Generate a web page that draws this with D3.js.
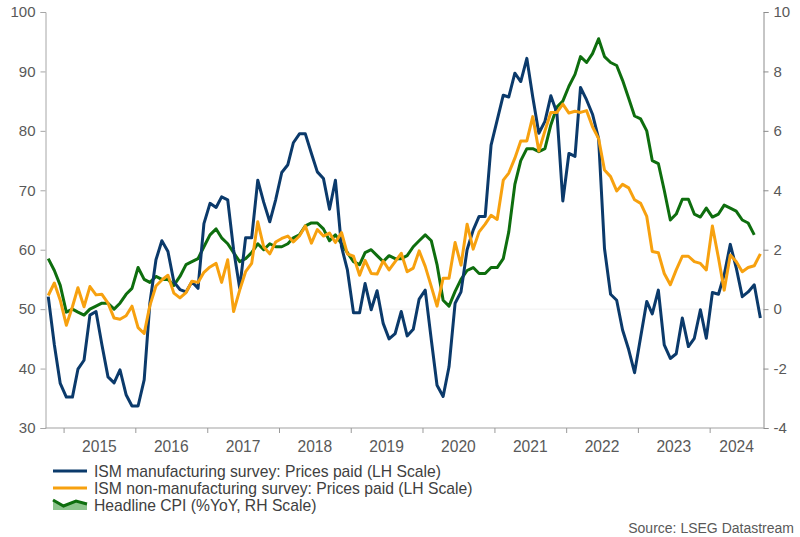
<!DOCTYPE html>
<html>
<head>
<meta charset="utf-8">
<script src="https://cdn.jsdelivr.net/npm/d3@7"></script>
<style>
  html, body { margin: 0; padding: 0; background: #fff; }
  svg { display: block; font-family: "Liberation Sans", Arial, sans-serif; }
</style>
</head>
<body>
<svg id="chart" width="800" height="537"></svg>
<script>
// ---- Data (monthly, Oct 2014 onward) ----
const startYear = 2014, startMonth = 9; // Oct 2014 (0-based month)

const ismManufacturing = [
  52.1, 44.0, 37.5,
  35.2, 35.2, 39.9, 41.4, 49.0, 49.6, 44.0, 38.6, 37.6, 39.8, 35.6, 33.7,
  33.7, 38.1, 51.0, 58.3, 61.5, 59.7, 54.6, 53.3, 52.9, 54.6, 53.5, 64.4,
  67.8, 67.1, 68.9, 68.4, 60.0, 53.5, 62.0, 62.0, 71.7, 68.0, 64.7, 68.4,
  73.0, 74.3, 78.0, 79.5, 79.5, 76.2, 73.1, 72.0, 66.8, 71.7, 60.5, 56.6,
  49.4, 49.4, 54.3, 49.9, 53.1, 47.6, 45.0, 45.9, 49.6, 45.5, 46.6, 51.7,
  53.2, 44.8, 37.2, 35.3, 40.3, 51.0, 52.9, 60.0, 63.3, 65.6, 65.6, 77.6,
  81.8, 86.0, 85.7, 89.7, 88.3, 92.2, 85.7, 79.6, 81.6, 85.9, 83.0, 68.2,
  76.2, 75.7, 87.3, 85.2, 82.8, 78.7, 60.2, 52.5, 51.5, 46.5, 43.2, 39.3,
  45.3, 51.3, 49.2, 53.2, 44.0, 41.7, 42.5, 48.5, 43.7, 45.1, 49.9, 45.1,
  52.8, 52.5, 55.8, 60.9, 57.0, 52.1, 52.9, 54.1, 48.5
];

const ismServices = [
  52.3, 54.4, 51.5,
  47.3, 50.4, 53.6, 50.4, 53.8, 52.4, 52.5, 51.0, 48.5, 48.3, 48.9, 50.5,
  46.9, 45.9, 50.6, 53.9, 54.9, 55.7, 52.7, 51.9, 52.8, 54.7, 54.5, 56.2,
  57.1, 57.7, 54.5, 58.3, 49.6, 53.2, 56.3, 57.7, 64.7, 60.5, 59.3, 61.3,
  61.9, 62.3, 61.3, 62.3, 64.0, 61.1, 63.4, 62.3, 62.8, 61.2, 62.9, 59.3,
  58.9, 55.7, 58.2, 56.0, 55.9, 58.1, 56.6, 58.0, 59.4, 56.3, 56.9, 59.8,
  57.2, 53.8, 50.5, 55.2, 55.2, 61.2, 57.4, 64.3, 60.1, 63.0, 64.3, 65.8,
  65.1, 71.7, 72.9, 75.4, 78.3, 78.3, 82.4, 76.6, 80.0, 83.1, 83.1, 84.5,
  83.0, 83.3, 83.1, 83.4, 80.7, 78.7, 73.4, 72.3, 69.9, 71.0, 70.4, 68.4,
  67.8, 65.6, 59.7, 59.5, 56.0, 54.1, 56.6, 58.9, 58.9, 58.0, 57.7, 56.6,
  64.0, 58.6, 53.2, 59.1, 58.0, 56.3, 57.0, 57.3, 59.3
];

const headlineCPI = [
  1.7, 1.3, 0.8,
  -0.1, 0.0, -0.1, -0.2, 0.0, 0.1, 0.2, 0.2, 0.0, 0.2, 0.5, 0.7,
  1.4, 1.0, 0.9, 1.1, 1.0, 1.0, 0.8, 1.1, 1.5, 1.6, 1.7, 2.1,
  2.5, 2.7, 2.4, 2.2, 1.9, 1.6, 1.7, 1.9, 2.2, 2.0, 2.2, 2.1,
  2.1, 2.2, 2.4, 2.5, 2.8, 2.9, 2.9, 2.7, 2.3, 2.5, 2.2, 1.9,
  1.6, 1.5, 1.9, 2.0, 1.8, 1.6, 1.8, 1.7, 1.7, 1.8, 2.1, 2.3,
  2.5, 2.3, 1.5, 0.3, 0.1, 0.6, 1.0, 1.3, 1.4, 1.2, 1.2, 1.4,
  1.4, 1.7, 2.6, 4.2, 5.0, 5.4, 5.4, 5.3, 5.4, 6.2, 6.8, 7.0,
  7.5, 7.9, 8.5, 8.3, 8.6, 9.1, 8.5, 8.3, 8.2, 7.7, 7.1, 6.5,
  6.4, 6.0, 5.0, 4.9, 4.0, 3.0, 3.2, 3.7, 3.7, 3.2, 3.1, 3.4,
  3.1, 3.2, 3.5, 3.4, 3.3, 3.0, 2.9, 2.5
];

const yearLabels = ["2015","2016","2017","2018","2019","2020","2021","2022","2023","2024"];
const leftTicks = [30, 40, 50, 60, 70, 80, 90, 100];
const rightTicks = [-4, -2, 0, 2, 4, 6, 8, 10];

const seriesNames = [
  "ISM manufacturing survey: Prices paid (LH Scale)",
  "ISM non-manufacturing survey: Prices paid (LH Scale)",
  "Headline CPI (%YoY, RH Scale)"
];
const sourceText = "Source: LSEG Datastream";

// ---- Setup ----
const colors = { blue: "#0b3a6b", orange: "#f7a10f", green: "#0e6e0e" };
const svg = d3.select("#chart");
const dateOf = i => new Date(startYear, startMonth + i, 15);

const x = d3.scaleTime()
  .domain([new Date(2014, 9, 1), new Date(2024, 9, 1)])
  .range([45.5, 763.5]);
const yL = d3.scaleLinear().domain([30, 100]).range([428, 12]);
const yR = d3.scaleLinear().domain([-4, 10]).range([428, 12]);

// faint zero line
svg.append("line")
  .attr("x1", x.range()[0]).attr("x2", x.range()[1])
  .attr("y1", yR(0)).attr("y2", yR(0))
  .attr("stroke", "#f2f2f2").attr("stroke-width", 1);

// ---- Axes ----
const textColor = "#595959";

// bottom axis
const gx = svg.append("g").attr("transform", `translate(0,428)`);
gx.append("line")
  .attr("x1", x.range()[0]).attr("x2", x.range()[1])
  .attr("y1", 0).attr("y2", 0)
  .attr("stroke", "#d0d0d0").attr("stroke-width", 2);
const yearTicks = yearLabels.map(y => new Date(+y, 0, 1));
const xAxis = d3.axisBottom(x).tickValues(yearTicks).tickSize(5).tickFormat("");
const gxa = svg.append("g").attr("transform", "translate(0,428)").call(xAxis);
gxa.select(".domain").remove();
gxa.selectAll(".tick line").attr("stroke", "#9a9a9a");
// year labels centered between ticks
yearLabels.forEach((lab, i) => {
  const a = x(yearTicks[i]);
  const b = i < yearLabels.length - 1 ? x(yearTicks[i + 1]) : x.range()[1];
  svg.append("text")
    .attr("x", (a + b) / 2).attr("y", 446)
    .attr("text-anchor", "middle").attr("dominant-baseline", "central")
    .attr("font-size", 15.6).attr("fill", textColor)
    .text(lab);
});

const fmt = v => String(v); // plain hyphen-minus like the reference

// left axis
const gl = svg.append("g").attr("transform", `translate(${x.range()[0]},0)`)
  .call(d3.axisLeft(yL).tickValues(leftTicks).tickSize(5).tickPadding(5).tickFormat(fmt));
gl.select(".domain").attr("stroke", "#a6a6a6");
gl.selectAll(".tick line").attr("stroke", "#a6a6a6");
gl.selectAll(".tick text").attr("font-size", 15).attr("fill", textColor)
  .attr("font-family", "Liberation Sans, Arial, sans-serif");

// right axis
const gr = svg.append("g").attr("transform", `translate(${x.range()[1]},0)`)
  .call(d3.axisRight(yR).tickValues(rightTicks).tickSize(5).tickPadding(5).tickFormat(fmt));
gr.select(".domain").attr("stroke", "#8c8c8c");
gr.selectAll(".tick line").attr("stroke", "#8c8c8c");
gr.selectAll(".tick text").attr("font-size", 15).attr("fill", textColor)
  .attr("font-family", "Liberation Sans, Arial, sans-serif");

// ---- Lines ----
const lineL = d3.line().x((d, i) => x(dateOf(i))).y(d => yL(d));
const lineR = d3.line().x((d, i) => x(dateOf(i))).y(d => yR(d));

svg.append("path").datum(headlineCPI)
  .attr("d", lineR).attr("fill", "none")
  .attr("stroke", colors.green).attr("stroke-width", 3).attr("stroke-linejoin", "round");
svg.append("path").datum(ismManufacturing)
  .attr("d", lineL).attr("fill", "none")
  .attr("stroke", colors.blue).attr("stroke-width", 3).attr("stroke-linejoin", "round");
svg.append("path").datum(ismServices)
  .attr("d", lineL).attr("fill", "none")
  .attr("stroke", colors.orange).attr("stroke-width", 3).attr("stroke-linejoin", "round");

// ---- Legend ----
const legendY = [471, 488, 505];
const lg = svg.append("g");
lg.append("line").attr("x1", 53).attr("x2", 87).attr("y1", legendY[0]).attr("y2", legendY[0])
  .attr("stroke", colors.blue).attr("stroke-width", 3);
lg.append("line").attr("x1", 53).attr("x2", 87).attr("y1", legendY[1]).attr("y2", legendY[1])
  .attr("stroke", colors.orange).attr("stroke-width", 3);
const iconPts = [[53, 500], [63.5, 506], [76, 501], [87, 504]];
lg.append("path")
  .attr("d", d3.area().x(d => d[0]).y0(510).y1(d => d[1])(iconPts))
  .attr("fill", "#8cc48c");
lg.append("path")
  .attr("d", d3.line()(iconPts))
  .attr("fill", "none").attr("stroke", colors.green).attr("stroke-width", 3);
seriesNames.forEach((n, i) => {
  lg.append("text").attr("x", 94).attr("y", legendY[i])
    .attr("dominant-baseline", "central")
    .attr("font-size", 15.7).attr("fill", "#404040").text(n);
});

svg.append("text").attr("x", 794).attr("y", 528)
  .attr("text-anchor", "end").attr("dominant-baseline", "central")
  .attr("font-size", 14).attr("fill", textColor).text(sourceText);
</script>
</body>
</html>
